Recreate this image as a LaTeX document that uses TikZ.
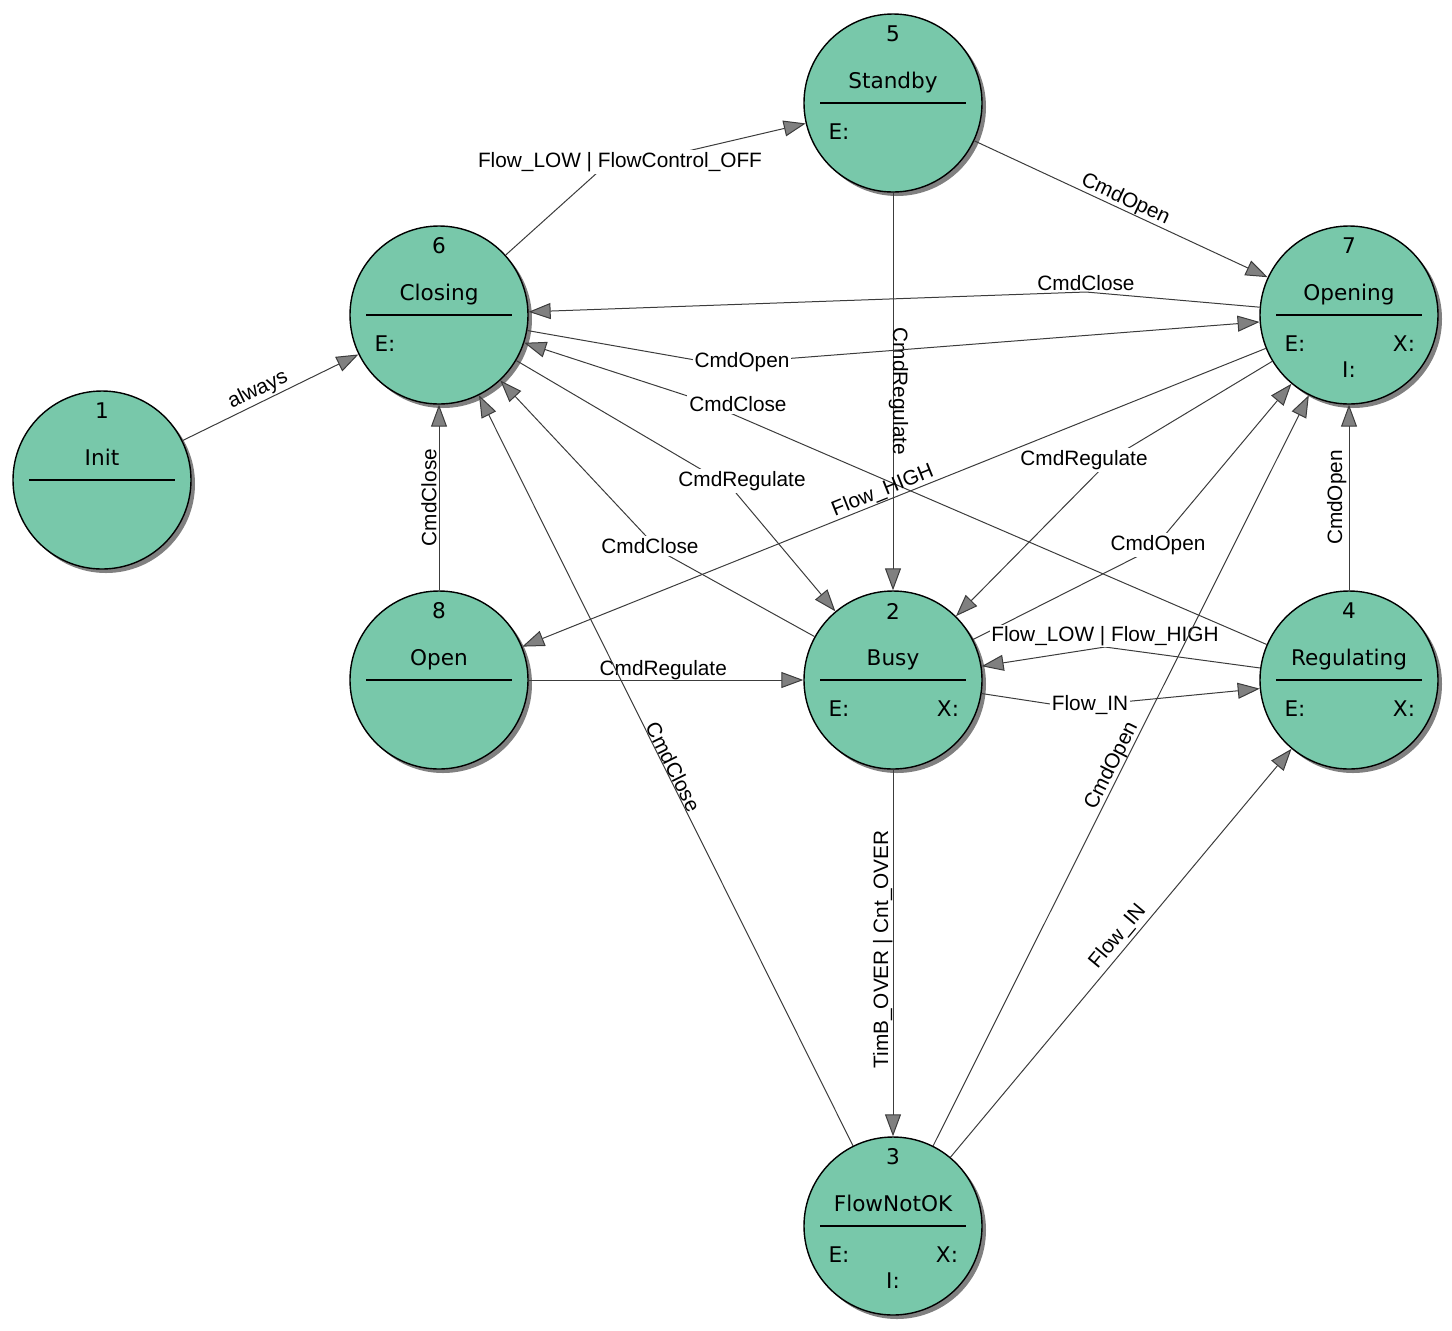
\documentclass[tikz,border=0pt]{standalone}
\usepackage{fontspec}
\setmainfont{Liberation Sans}
\newfontfamily\statefont{DejaVu Sans}
\usetikzlibrary{arrows.meta,shadows}
\definecolor{stgreen}{RGB}{120,200,170}
\definecolor{stshadow}{RGB}{128,128,128}
\definecolor{trline}{RGB}{60,60,60}
\tikzset{
  stcircle/.style={circle, draw=black, line width=0.7pt, fill=stgreen, minimum size=89pt, inner sep=0pt,
    drop shadow={shadow xshift=2pt, shadow yshift=-2pt, fill=stshadow, opacity=1}},
  sttext/.style={font=\statefont\fontsize{10.8}{12}\selectfont, inner sep=0pt},
  sttitle/.style={sttext, anchor=base},
  stbar/.style={line width=0.9pt},
  trans/.style={draw=trline, line width=0.5pt, -{Triangle[length=11pt, width=8pt, fill=stshadow]}},
  trlabel/.style={font=\fontsize{10.4}{12}\selectfont, inner sep=1pt},
  wplabel/.style={trlabel, fill=white},
}
\begin{document}
\begin{tikzpicture}[x=0.5pt, y=-0.5pt]
\useasboundingbox (0,0) rectangle (1452,1330);

% states
\node[stcircle] (init) at (102,480){};
\node[stcircle] (closing) at (439,315){};
\node[stcircle] (standby) at (893,103){};
\node[stcircle] (opening) at (1349,315){};
\node[stcircle] (open) at (439,680){};
\node[stcircle] (busy) at (893,680){};
\node[stcircle] (regulating) at (1349,680){};
\node[stcircle] (flownotok) at (893,1226){};

\node[sttext] (num1) at (102,411){1};
\node[sttitle] (tit1) at (102,465){Init};
\draw[stbar] (29,480) -- (175,480);

\node[sttext] (num6) at (439,246){6};
\node[sttitle] (tit6) at (439,300){Closing};
\draw[stbar] (366,315) -- (512,315);
\node[sttext] (ent6) at (385,344){E:};

\node[sttext] (num5) at (893,34){5};
\node[sttitle] (tit5) at (893,88){Standby};
\draw[stbar] (820,103) -- (966,103);
\node[sttext] (ent5) at (839,132){E:};

\node[sttext] (num7) at (1349,246){7};
\node[sttitle] (tit7) at (1349,300){Opening};
\draw[stbar] (1276,315) -- (1422,315);
\node[sttext] (ent7) at (1295,344){E:};
\node[sttext] (ext7) at (1404,344){X:};
\node[sttext] (int7) at (1349,370){I:};

\node[sttext] (num8) at (439,611){8};
\node[sttitle] (tit8) at (439,665){Open};
\draw[stbar] (366,680) -- (512,680);

\node[sttext] (num2) at (893,611){2};
\node[sttitle] (tit2) at (893,665){Busy};
\draw[stbar] (820,680) -- (966,680);
\node[sttext] (ent2) at (839,709){E:};
\node[sttext] (ext2) at (948,709){X:};

\node[sttext] (num4) at (1349,611){4};
\node[sttitle] (tit4) at (1349,665){Regulating};
\draw[stbar] (1276,680) -- (1422,680);
\node[sttext] (ent4) at (1295,709){E:};
\node[sttext] (ext4) at (1404,709){X:};

\node[sttext] (num3) at (893,1157){3};
\node[sttitle] (tit3) at (893,1211){FlowNotOK};
\draw[stbar] (820,1226) -- (966,1226);
\node[sttext] (ent3) at (839,1255){E:};
\node[sttext] (ext3) at (947,1255){X:};
\node[sttext] (int3) at (893,1281){I:};

% bends of the transitions
\coordinate (w1) at (598,172);
\coordinate (w2) at (1086,292);
\coordinate (w3) at (718,364);
\coordinate (w4) at (700,400);
\coordinate (w5) at (731,487);
\coordinate (w6) at (660,551);
\coordinate (w7) at (1112,458);
\coordinate (w8) at (1154,548);
\coordinate (w9) at (1105,647);
\coordinate (w10) at (1070,707);

% transitions
\draw[trans] (init) -- node[trlabel, sloped, above, pos=0.46]{always} (closing);
\draw[trans] (closing) -- (w1) -- (standby);
\draw[trans] (standby) -- node[trlabel, sloped, above, inner sep=0pt]{CmdOpen} (opening);
\draw[trans] (standby) -- node[trlabel, pos=0.5, rotate=-90, anchor=base]{CmdRegulate} (busy);
\draw[trans] (opening) -- (w2) -- (closing);
\draw[trans] (closing) -- (w3) -- (opening);
\draw[trans] (regulating) -- (w4) -- (closing);
\draw[trans] (closing) -- (w5) -- (busy);
\draw[trans] (busy) -- (w6) -- (closing);
\draw[trans] (opening) -- (w7) -- (busy);
\draw[trans] (busy) -- (w8) -- (opening);
\draw[trans] (regulating) -- (w9) -- (busy);
\draw[trans] (busy) -- (w10) -- (regulating);
\draw[trans] (opening) -- node[trlabel, sloped, above, inner sep=0pt, pos=0.51]{Flow\_HIGH} (open);
\draw[trans] (regulating) -- node[trlabel, pos=0.5, rotate=90, anchor=south]{CmdOpen} (opening);
\draw[trans] (open) -- node[trlabel, pos=0.5, rotate=90, anchor=south]{CmdClose} (closing);
\draw[trans] (open) -- node[trlabel, pos=0.49, above, inner sep=0pt]{CmdRegulate} (busy);
\draw[trans] (busy) -- node[trlabel, pos=0.49, rotate=90, anchor=south, inner sep=0pt]{TimB\_OVER | Cnt\_OVER} (flownotok);
\draw[trans] (flownotok) -- node[trlabel, sloped, above, inner sep=0pt]{CmdClose} (closing);
\draw[trans] (flownotok) -- node[trlabel, sloped, above, inner sep=1.5pt, pos=0.52]{Flow\_IN} (regulating);

% labels at the bends
\node[wplabel] (lab1) at (620,162){Flow\_LOW | FlowControl\_OFF};
\node[trlabel, above, inner sep=0.5pt] (lab2) at (w2){CmdClose};
\node[wplabel] (lab3) at (742,362){CmdOpen};
\node[wplabel] (lab4) at (738,404){CmdClose};
\node[wplabel] (lab5) at (742,481){CmdRegulate};
\node[wplabel] (lab6) at (650,546){CmdClose};
\node[wplabel] (lab7) at (1084,460){CmdRegulate};
\node[wplabel] (lab8) at (1158,545){CmdOpen};
\node[wplabel, above, inner sep=0.5pt] (lab9) at (w9){Flow\_LOW | Flow\_HIGH};
\node[wplabel] (lab10) at (1090,705){Flow\_IN};

\draw[trans] (flownotok) -- node[trlabel, sloped, above, inner sep=0pt]{CmdOpen} (opening);

\end{tikzpicture}
\end{document}
